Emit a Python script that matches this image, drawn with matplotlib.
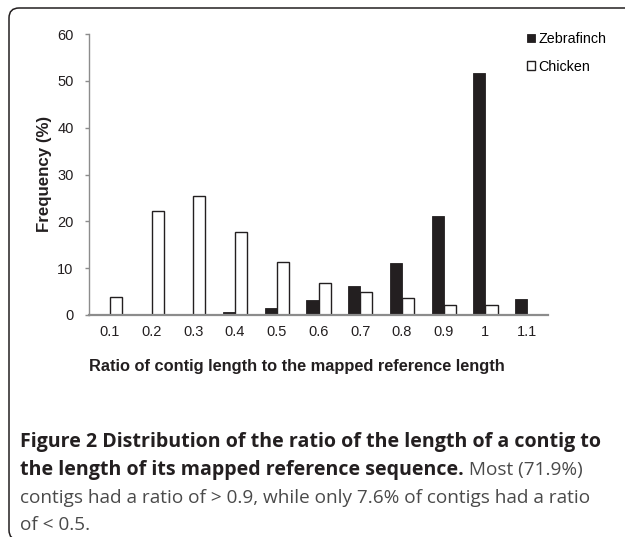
import numpy as np
import matplotlib
matplotlib.use('Agg')
import matplotlib.pyplot as plt
from matplotlib.patches import FancyBboxPatch

# Dữ liệu
ratios = ['0.1', '0.2', '0.3', '0.4', '0.5', '0.6', '0.7', '0.8', '0.9', '1', '1.1']
zebrafinch = [0, 0, 0.2, 0.7, 1.5, 3.2, 6.2, 11.1, 21.2, 51.7, 3.5]
chicken = [3.8, 22.3, 25.4, 17.7, 11.4, 6.9, 5.0, 3.6, 2.2, 2.1, 0]
yticks = [0, 10, 20, 30, 40, 50, 60]

dark = '#231f20'
grey = '#8c8c8c'
W, H = 625, 537

plt.rcParams['font.family'] = ['Liberation Sans', 'DejaVu Sans']

fig = plt.figure(figsize=(W / 100, H / 100), dpi=100)
ax = fig.add_axes([89 / W, 1 - 315 / H, (548 - 89) / W, (315 - 34) / H])

x = np.arange(len(ratios))
bw = 0.29
ax.bar(x - bw / 2, zebrafinch, bw, color=dark, edgecolor=dark, linewidth=0.6,
       label='Zebrafinch')
ax.bar(x + bw / 2, chicken, bw, color='white', edgecolor=dark, linewidth=1.0,
       label='Chicken')

ax.set_xlim(-0.5, len(ratios) - 0.5)
ax.set_ylim(0, 60)
ax.set_yticks(yticks)
ax.set_xticks(x)
ax.set_xticklabels(ratios)

for s in ['top', 'right']:
    ax.spines[s].set_visible(False)
ax.spines['left'].set_color(grey)
ax.spines['left'].set_linewidth(1.0)
ax.spines['bottom'].set_color(grey)
ax.spines['bottom'].set_linewidth(1.6)

ax.tick_params(axis='y', length=3, width=1, color=grey, pad=8,
               labelsize=10.5, labelcolor=dark)
ax.tick_params(axis='x', length=0, pad=7, labelsize=10.5, labelcolor=dark)

# Nhãn trục
fig.text(44 / W, 1 - 174 / H, 'Frequency (%)', rotation=90, ha='center', va='center',
         fontsize=12.2, fontweight='bold', color=dark)
fig.text(297 / W, 1 - 367 / H, 'Ratio of contig length to the mapped reference length',
         ha='center', va='center', fontsize=11.8, fontweight='bold', color=dark)

# Chú thích
ax.legend(loc='upper left', bbox_to_anchor=(527 / W, 1 - 32 / H),
          bbox_transform=fig.transFigure, frameon=False, fontsize=10.3,
          handlelength=0.55, handleheight=0.55, handletextpad=0.25,
          labelspacing=0.95, borderpad=0, borderaxespad=0)

# Khung viền bo tròn
box = FancyBboxPatch((0.09, -0.03), 10.0, 5.29 + 0.03,
                     boxstyle='round,pad=0,rounding_size=0.1',
                     transform=fig.dpi_scale_trans, facecolor='none',
                     edgecolor=dark, linewidth=1.1, clip_on=False)
fig.patches.append(box)

# Phần chú thích hình
cap = ['Open Sans', 'DejaVu Sans']
capgrey = '#4a4a4a'
lines = [
    ('Figure 2 Distribution of the ratio of the length of a contig to', 'bold', dark, 442),
    ('the length of its mapped reference sequence.', 'bold', dark, 470),
    ('contigs had a ratio of > 0.9, while only 7.6% of contigs had a ratio', 'normal', capgrey, 498),
    ('of < 0.5.', 'normal', capgrey, 525),
]
texts = []
for s, w, c, yy in lines:
    texts.append(fig.text(20 / W, 1 - yy / H, s, ha='left', va='center', fontsize=12,
                          fontweight=w, family=cap, color=c))

# chỉnh cỡ chữ cho khớp độ rộng dòng
r = fig.canvas.get_renderer()
fb = 12 * 582 / texts[0].get_window_extent(r).width
fn = 12 * 572 / texts[2].get_window_extent(r).width
for t, (s, w, c, yy) in zip(texts, lines):
    t.set_fontsize(fb if w == 'bold' else fn)
ax.annotate(' Most (71.9%)', xy=(1, 0.5), xycoords=texts[1], ha='left', va='center',
            fontsize=fn, family=cap, color=capgrey, annotation_clip=False)

fig.savefig('out.png', dpi=100)
